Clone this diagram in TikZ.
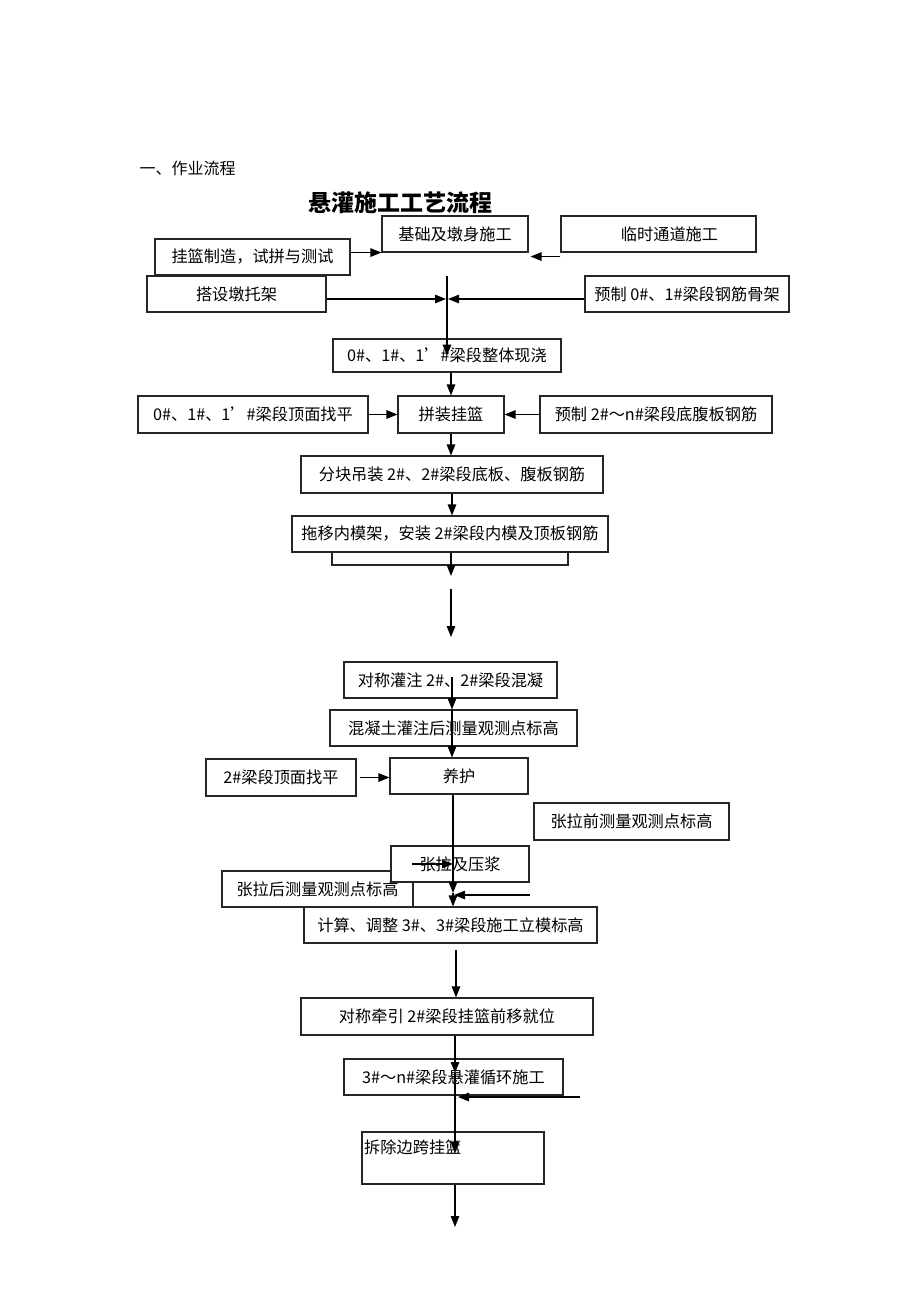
\documentclass[tikz,border=0pt]{standalone}
\usepackage{fontspec}
\setmainfont{Noto Sans CJK SC}
\usetikzlibrary{arrows.meta}

\tikzset{
  box/.style={draw=black!85, line width=1.1pt, fill=white, minimum height=36pt,
    inner sep=0pt, font=\fontsize{16.2}{18}\selectfont},
  arr/.style={line width=1.3pt, -{Triangle[length=11pt,width=8.5pt]}}
}

\begin{document}
\begin{tikzpicture}[x=1pt, y=-1pt]
  \useasboundingbox (0,0) rectangle (920,1302);

  % Heading and title
  \node[anchor=west, font=\fontsize{16}{18}\selectfont] (head) at (136,168) {一、作业流程};
  \node[font=\fontsize{23}{26}\selectfont\bfseries] (title) at (400,203) {悬灌施工工艺流程};

  % Top rows
  \node[box, minimum width=146pt] (jichu) at (455,234) {基础及墩身施工};
  \node[box, minimum width=195pt] (linshi) at (658.5,234) {\hspace{22pt}临时通道施工};
  \node[box, minimum width=195pt] (gualan) at (252.5,257) {挂篮制造，试拼与测试};
  \node[box, minimum width=179pt] (dasha) at (236.5,294) {搭设墩托架};
  \node[box, minimum width=204pt] (yuzhi0) at (687,294) {预制 0\#、1\#梁段钢筋骨架};
  \node[box, minimum width=228pt, minimum height=33pt] (ling) at (447,355.5) {0\#、1\#、1’\#梁段整体现浇};

  % Assembly of the form traveller
  \node[box, minimum width=230pt, minimum height=37pt] (zhaoping0) at (253,414.5) {0\#、1\#、1’\#梁段顶面找平};
  \node[box, minimum width=106pt, minimum height=37pt] (pinzhuang) at (451,414.5) {拼装挂篮};
  \node[box, minimum width=232pt, minimum height=37pt] (yuzhi2) at (656,414.5) {预制 2\#～n\#梁段底腹板钢筋};
  \node[box, minimum width=302pt, minimum height=37pt] (fenkuai) at (452,474.5) {分块吊装 2\#、2\#梁段底板、腹板钢筋};
  \node[box, minimum width=236pt, minimum height=35pt] (tuoyiback) at (450,547.5) {};
  \node[box, minimum width=316pt] (tuoyi) at (450,534) {拖移内模架，安装 2\#梁段内模及顶板钢筋};

  % Casting and curing
  \node[box, minimum width=213pt] (duicheng) at (450.5,680) {对称灌注 2\#、2\#梁段混凝};
  \node[box, minimum width=247pt] (hunning) at (453.5,728) {混凝土灌注后测量观测点标高};
  \node[box, minimum width=150pt, minimum height=37pt] (zhaoping2) at (281,777.5) {2\#梁段顶面找平};
  \node[box, minimum width=138pt] (yanghu) at (459,776) {养护};

  % Prestressing
  \node[box, minimum width=195pt, minimum height=37pt] (zhangqian) at (631.5,821.5) {张拉前测量观测点标高};
  \node[box, minimum width=191pt] (zhanghou) at (317.5,889) {张拉后测量观测点标高};
  \node[box, minimum width=138pt] (zhangla) at (460,864) {张拉及压浆};
  \node[box, minimum width=293pt] (jisuan) at (450.5,925) {计算、调整 3\#、3\#梁段施工立模标高};

  % Moving on and the cycle
  \node[box, minimum width=292pt, minimum height=37pt] (qianyin) at (447,1016.5) {对称牵引 2\#梁段挂篮前移就位};
  \node[box, minimum width=219pt] (xunhuan) at (453.5,1077) {3\#～n\#梁段悬灌循环施工};
  \node[box, minimum width=182pt, minimum height=52pt] (chaichu) at (453,1158) {};
  \node[anchor=west, inner sep=0pt, font=\fontsize{16.2}{18}\selectfont] (chaitxt) at (364,1147) {拆除边跨挂篮};

  % Arrows, top
  \draw[arr] (gualan.east |- jichu.south) -- (jichu.south west);
  \draw[arr] ([yshift=-4pt]linshi.south west) -- ([yshift=-4pt, xshift=2pt]linshi.south west -| jichu.east);
  \coordinate (hubtop) at (447,276);
  \coordinate (hub) at (447,299);
  \draw[arr] (hubtop) -- (ling.center);
  \draw[arr] (dasha.east |- hub) -- ([xshift=-1pt]hub);
  \draw[arr] (yuzhi0.west |- hub) -- ([xshift=1pt]hub);

  \draw[arr] (ling.south -| pinzhuang) -- (pinzhuang.north);
  \draw[arr] (zhaoping0.east) -- (pinzhuang.west);
  \draw[arr] (yuzhi2.west) -- (pinzhuang.east);
  \draw[arr] (pinzhuang.south) -- (pinzhuang.south |- fenkuai.north);
  \draw[arr] (fenkuai.south) -- (fenkuai.south |- tuoyi.north);
  \coordinate (t1) at (451,576);
  \draw[arr] (tuoyi.south -| t1) -- (t1);
  \coordinate (g1) at (451,589);
  \coordinate (g2) at (451,637);
  \draw[arr] (g1) -- (g2);

  % Arrows, casting
  \coordinate (d1) at (452,677);
  \draw[arr] (d1) -- (d1 |- hunning.north);
  \draw[arr] (d1 |- hunning.north) -- (d1 |- yanghu.north);
  \draw[arr] ([xshift=3pt]zhaoping2.east) -- (zhaoping2.east -| yanghu.west);

  % Arrows, prestressing
  \coordinate (join) at (453,893);
  \draw[arr] (yanghu.south -| join) -- (join);
  \draw[arr] (join) -- (join |- jisuan.north);
  \draw[arr] ([xshift=22pt]zhangla.west) -- (zhangla.west -| join);
  \coordinate (r1) at (530,895);
  \draw[arr] (r1) -- ([xshift=1pt]r1 -| join);

  % Arrows, bottom
  \coordinate (j1) at (456,950);
  \draw[arr] (j1) -- (j1 |- qianyin.north);
  \coordinate (x1) at (455,1073);
  \draw[arr] (qianyin.south -| x1) -- (x1);
  \coordinate (c1) at (455,1153);
  \draw[arr] (x1) -- (c1);
  \coordinate (r2) at (580,1097);
  \draw[arr] (r2) -- ([xshift=3pt]r2 -| x1);
  \coordinate (e1) at (455,1227);
  \draw[arr] (chaichu.south -| e1) -- (e1);
\end{tikzpicture}
\end{document}
